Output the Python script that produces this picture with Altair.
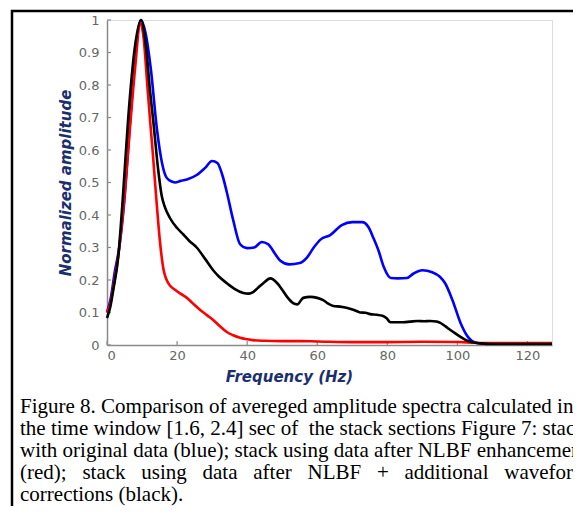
import altair as alt
import pandas as pd

# ---- data ----
blue_f = [0, 1, 2.3, 3.5, 5, 6.6, 8, 9.7, 11, 12.5, 14.3, 15.7, 17, 18.5, 19.5, 21, 23, 25.6, 28, 30,
          31.5, 33, 34.2, 36, 38, 40, 42, 44.2, 46, 48, 49.4, 52, 55, 57, 59, 61, 63.7, 67, 70, 72.8,
          74.6, 76, 77.5, 79, 81, 83, 85.6, 87.5, 90, 92.8, 95, 96.5, 98.6, 100.9, 103, 105.6, 108, 115, 127]
blue_v = [0.10, 0.14, 0.23, 0.30, 0.45, 0.69, 0.88, 1.00, 0.96, 0.85, 0.66, 0.56, 0.515, 0.503, 0.50, 0.505,
          0.51, 0.523, 0.545, 0.566, 0.56, 0.52, 0.47, 0.385, 0.31, 0.298, 0.30, 0.317, 0.31, 0.28, 0.26,
          0.248, 0.252, 0.268, 0.30, 0.325, 0.338, 0.369, 0.378, 0.378, 0.363, 0.33, 0.29, 0.24, 0.206,
          0.205, 0.206, 0.22, 0.23, 0.224, 0.21, 0.19, 0.138, 0.068, 0.025, 0.006, 0.004, 0.004, 0.004]

red_f = [0, 1, 2, 3.5, 5, 6.5, 8, 9.5, 10.5, 11.5, 12.3, 13, 14, 15.1, 16, 17.5, 19.4, 21, 22.8, 24.5,
         26.6, 28.5, 30.3, 32, 34.2, 36, 38, 41.7, 45, 50, 55, 60, 70, 80, 90, 100, 105, 110, 127]
red_v = [0.10, 0.13, 0.19, 0.30, 0.46, 0.66, 0.85, 0.99, 0.94, 0.80, 0.69, 0.60, 0.46, 0.32, 0.24, 0.19,
         0.17, 0.158, 0.145, 0.128, 0.108, 0.092, 0.077, 0.06, 0.04, 0.03, 0.022, 0.015, 0.013, 0.012,
         0.012, 0.011, 0.009, 0.009, 0.01, 0.009, 0.007, 0.006, 0.006]

black_f = [0, 1, 1.8, 3.2, 4.5, 6, 8, 9.7, 11, 12.3, 13.2, 14.6, 15.6, 16.5, 18, 20, 21.8, 23.5, 25.6, 28,
           30.3, 32, 34.2, 36.5, 38.9, 40.5, 41.7, 43, 44.6, 46.6, 48.6, 50, 51.4, 53.1, 54.3, 56, 58, 60,
           61.7, 63, 64.6, 66.5, 68.6, 70.5, 72.3, 73.8, 75.1, 77, 78.6, 79.8, 80.9, 83, 84.6, 86.5, 88.6,
           90.5, 92.3, 94, 95.1, 96.5, 98, 99.5, 100.9, 102.3, 103.7, 106.6, 110, 127]
black_v = [0.083, 0.12, 0.17, 0.27, 0.45, 0.69, 0.92, 1.0, 0.93, 0.78, 0.69, 0.54, 0.46, 0.425, 0.39, 0.36,
           0.34, 0.32, 0.30, 0.265, 0.23, 0.21, 0.19, 0.172, 0.16, 0.158, 0.163, 0.175, 0.19, 0.205, 0.19,
           0.17, 0.148, 0.129, 0.125, 0.145, 0.148, 0.145, 0.138, 0.128, 0.12, 0.118, 0.114, 0.108, 0.10,
           0.099, 0.095, 0.093, 0.09, 0.082, 0.07, 0.07, 0.07, 0.072, 0.074, 0.073, 0.074, 0.072, 0.068,
           0.058, 0.046, 0.035, 0.025, 0.016, 0.01, 0.005, 0.003, 0.003]

x_ticks = [0, 20, 40, 60, 80, 100, 120]
y_ticks = [0, 0.1, 0.2, 0.3, 0.4, 0.5, 0.6, 0.7, 0.8, 0.9, 1]

NB = "\u00a0"
GAP = NB * 3
caption = [
    "Figure 8. Comparison of avereged amplitude spectra calculated in",
    "the time window [1.6, 2.4] sec of" + NB + " the stack sections Figure 7: stack",
    "with original data (blue); stack using data after NLBF enhancement",
    GAP.join(["(red);", "stack", "using", "data", "after", "NLBF", "+", "additional", "waveform"]),
    "corrections (black).",
]

W, H = 445, 325
NAVY = "#1b2f6e"
GRAY = "#666666"

xscale = alt.Scale(domain=[0, 127], nice=False, zero=False)
yscale = alt.Scale(domain=[0, 1], nice=False)

xaxis = alt.Axis(values=x_ticks, format="d", title="Frequency (Hz)", grid=False, ticks=False, tickSize=0,
                 labelFont="DejaVu Sans", labelFontSize=13, labelColor=GRAY, labelPadding=4,
                 domainColor="#8a8a8a", domainWidth=1.5,
                 titleFont="DejaVu Sans", titleFontSize=15, titleFontWeight="bold", titleFontStyle="italic",
                 titleColor=NAVY, titleX=182, titleY=36, titleBaseline="alphabetic", titleAlign="center")
yaxis = alt.Axis(values=y_ticks, format="~g", title="Normalized amplitude", grid=False, ticks=False, tickSize=0,
                 labelFont="DejaVu Sans", labelFontSize=13, labelColor=GRAY, labelPadding=8,
                 domainColor="#8a8a8a", domainWidth=1.5,
                 titleFont="DejaVu Sans", titleFontSize=15, titleFontWeight="bold", titleFontStyle="italic",
                 titleColor=NAVY, titleX=-37, titleY=H / 2, titleBaseline="alphabetic", titleAngle=-90,
                 titleAlign="center")


def series_line(fs, vs, color):
    df = pd.DataFrame({"f": fs, "v": vs})
    return alt.Chart(df).mark_line(color=color, strokeWidth=2.6, interpolate="monotone").encode(
        x=alt.X("f:Q", scale=xscale, axis=xaxis),
        y=alt.Y("v:Q", scale=yscale, axis=yaxis),
    )


ytick_layer = alt.Chart(pd.DataFrame({"t": y_ticks})).mark_rule(color="#8a8a8a", strokeWidth=1.2).encode(
    y=alt.Y("t:Q", scale=yscale, axis=yaxis), x=alt.value(0), x2=alt.value(4))
xtick_layer = alt.Chart(pd.DataFrame({"t": x_ticks})).mark_rule(color="#8a8a8a", strokeWidth=1.2).encode(
    x=alt.X("t:Q", scale=xscale, axis=xaxis), y=alt.value(H), y2=alt.value(H - 4))

# figure frame (its right and bottom edges lie outside the picture, as in the reference)
frame = alt.Chart(pd.DataFrame({"a": [0]})).mark_rect(filled=False, stroke="black", strokeWidth=2.5).encode(
    x=alt.value(-95), x2=alt.value(900), y=alt.value(-9), y2=alt.value(900))

caption_layer = alt.Chart(pd.DataFrame({"a": [0]})).mark_text(
    align="left", baseline="alphabetic", font="Liberation Serif", fontSize=21, color="black",
    lineHeight=22,
).encode(x=alt.value(-87), y=alt.value(393), text=alt.value(caption))

chart = alt.layer(
    frame,
    ytick_layer,
    xtick_layer,
    series_line(blue_f, blue_v, "#0000ff"),
    series_line(red_f, red_v, "#ff0000"),
    series_line(black_f, black_v, "#000000"),
    caption_layer,
).properties(
    width=W,
    height=H,
    autosize=alt.AutoSizeParams(type="none"),
    padding={"left": 99, "top": 12, "right": 21, "bottom": 161},
).configure_view(stroke=None).configure(background="white")

chart.save("out.html", embed_options={"renderer": "svg", "actions": False})
